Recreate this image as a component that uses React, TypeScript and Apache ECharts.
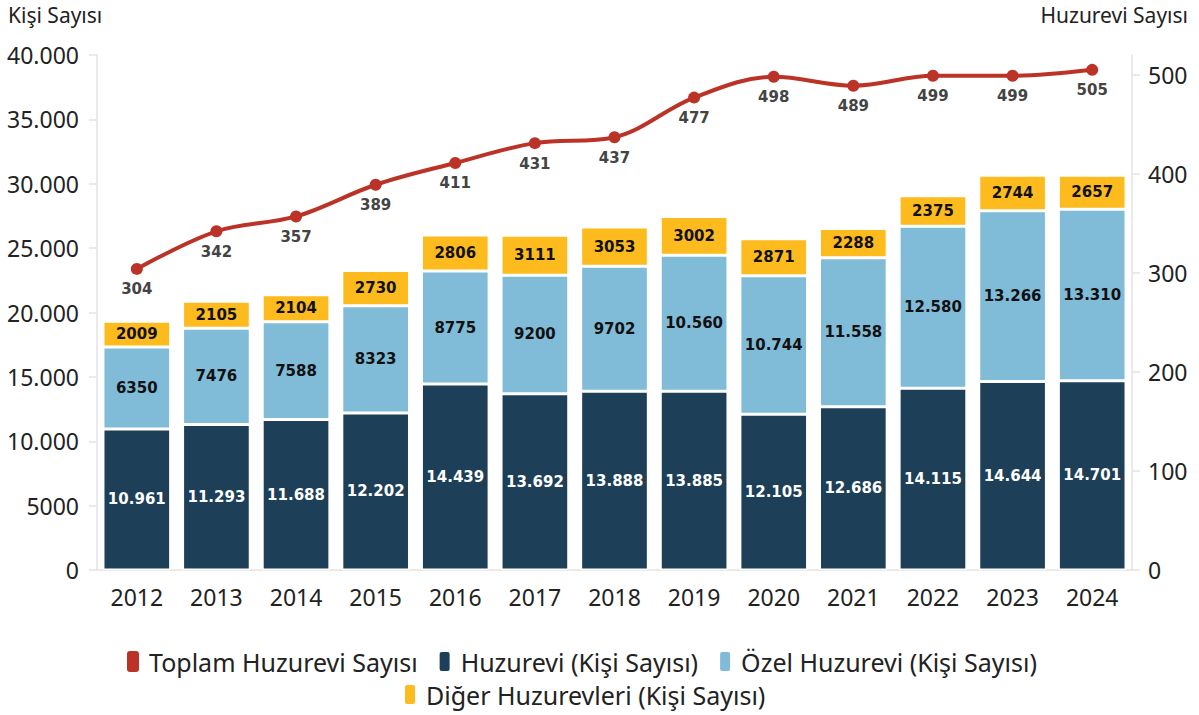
import React, { useEffect, useRef } from "react";
import * as echarts from "echarts";

const years = ["2012", "2013", "2014", "2015", "2016", "2017", "2018", "2019", "2020", "2021", "2022", "2023", "2024"];
const huzurevi = [10961, 11293, 11688, 12202, 14439, 13692, 13888, 13885, 12105, 12686, 14115, 14644, 14701];
const ozel = [6350, 7476, 7588, 8323, 8775, 9200, 9702, 10560, 10744, 11558, 12580, 13266, 13310];
const diger = [2009, 2105, 2104, 2730, 2806, 3111, 3053, 3002, 2871, 2288, 2375, 2744, 2657];
const toplam = [304, 342, 357, 389, 411, 431, 437, 477, 498, 489, 499, 499, 505];

const fmt = (v: number) => {
  if (v >= 10000) {
    const s = String(Math.round(v));
    return s.replace(/\B(?=(\d{3})+(?!\d))/g, ".");
  }
  return String(v);
};

const FONT = "Noto Sans";
const LFONT = "DejaVu Sans";

export default function App() {
  const ref = useRef<HTMLDivElement>(null);
  useEffect(() => {
    if (!ref.current) return;
    const chart = echarts.init(ref.current, undefined, { renderer: "svg" });
    const barLabel = (color: string) => ({
      show: true,
      position: "inside" as const,
      color,
      fontFamily: LFONT,
      fontWeight: "bold" as const,
      fontSize: 15,
      formatter: (p: any) => fmt(p.value),
    });
    const legendText = { fontFamily: FONT, fontSize: 25, color: "#222", padding: [0, 0, 0, 5] };
    chart.setOption({
      animation: false,
      backgroundColor: "#fff",
      textStyle: { fontFamily: FONT },
      graphic: [
        { type: "text", left: 8, top: 4, style: { text: "Kişi Sayısı", fontFamily: FONT, fontSize: 21, fill: "#222" } },
        { type: "text", right: 11, top: 4, style: { text: "Huzurevi Sayısı", fontFamily: FONT, fontSize: 21, fill: "#222" } },
      ],
      legend: [
        {
          data: ["Toplam Huzurevi Sayısı", "Huzurevi (Kişi Sayısı)", "Özel Huzurevi (Kişi Sayısı)"],
          left: 122,
          top: 644,
          icon: "roundRect",
          itemWidth: 12,
          itemHeight: 21,
          itemGap: 20,
          textStyle: legendText,
        },
        {
          data: ["Diğer Huzurevleri (Kişi Sayısı)"],
          left: 398,
          top: 677,
          icon: "roundRect",
          itemWidth: 12,
          itemHeight: 21,
          textStyle: legendText,
        },
      ],
      grid: { left: 97, right: 67, top: 55, bottom: 145, containLabel: false },
      xAxis: {
        type: "category",
        data: years,
        axisLine: { lineStyle: { color: "#e3e3e3", width: 1.5 } },
        axisTick: { alignWithLabel: true, length: 8, lineStyle: { color: "#e3e3e3", width: 1.5 } },
        axisLabel: { fontFamily: FONT, fontSize: 23, color: "#222", margin: 15 },
      },
      yAxis: [
        {
          type: "value",
          min: 0,
          max: 40000,
          interval: 5000,
          splitLine: { show: false },
          axisLine: { show: true, lineStyle: { color: "#e3e3e3", width: 1.5 } },
          axisTick: { show: true, length: 8, lineStyle: { color: "#e3e3e3", width: 1.5 } },
          axisLabel: { fontFamily: FONT, fontSize: 23, color: "#222", margin: 18, formatter: (v: number) => fmt(v) },
        },
        {
          type: "value",
          min: 0,
          max: 520,
          interval: 100,
          position: "right",
          splitLine: { show: false },
          axisLine: { show: true, lineStyle: { color: "#e3e3e3", width: 1.5 } },
          axisTick: { show: true, length: 8, lineStyle: { color: "#e3e3e3", width: 1.5 } },
          axisLabel: { fontFamily: FONT, fontSize: 23, color: "#222", margin: 16, showMaxLabel: false },
        },
      ],
      series: [
        {
          name: "Huzurevi (Kişi Sayısı)",
          type: "bar",
          stack: "k",
          data: huzurevi,
          barCategoryGap: "15%",
          itemStyle: { color: "#1d4058", borderColor: "#fff", borderWidth: 1.5 },
          label: barLabel("#fff"),
        },
        {
          name: "Özel Huzurevi (Kişi Sayısı)",
          type: "bar",
          stack: "k",
          data: ozel,
          itemStyle: { color: "#80bbd8", borderColor: "#fff", borderWidth: 1.5 },
          label: barLabel("#111"),
        },
        {
          name: "Diğer Huzurevleri (Kişi Sayısı)",
          type: "bar",
          stack: "k",
          data: diger,
          itemStyle: { color: "#fdbb1e", borderColor: "#fff", borderWidth: 1.5 },
          label: barLabel("#111"),
        },
        {
          name: "Toplam Huzurevi Sayısı",
          type: "line",
          yAxisIndex: 1,
          data: toplam,
          smooth: 0.35,
          symbol: "circle",
          symbolSize: 12,
          lineStyle: { color: "#bb3327", width: 4 },
          itemStyle: { color: "#bb3327" },
          label: {
            show: true,
            position: "bottom",
            distance: 7,
            color: "#444",
            fontFamily: LFONT,
            fontWeight: "bold",
            fontSize: 15,
          },
          z: 5,
        },
      ],
    });
    return () => chart.dispose();
  }, []);
  return <div ref={ref} style={{ width: 1199, height: 715, position: "absolute", left: 0, top: 0 }} />;
}
